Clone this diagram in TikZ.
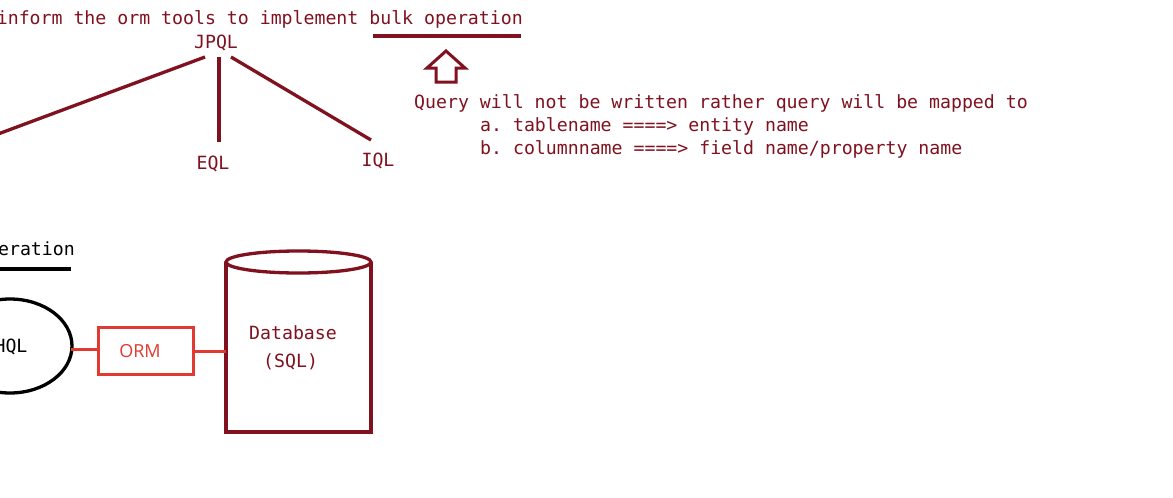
\documentclass[tikz,border=0pt]{standalone}
\usepackage{fontspec}
\usetikzlibrary{shapes.geometric}
\setmonofont{DejaVu Sans Mono}
\newfontfamily\ormfont{Open Sans}
\definecolor{maroon}{RGB}{128,18,32}
\definecolor{ormred}{RGB}{226,58,48}
\tikzset{
  mono/.style={font=\ttfamily\fontsize{18.2}{22}\selectfont, inner sep=0pt, text=maroon},
  monoblack/.style={mono, text=black},
  tline/.style={draw=maroon, line width=3.3pt},
  ormline/.style={draw=ormred, line width=3pt},
}
\begin{document}
\begin{tikzpicture}[x=1pt,y=-1pt]
\useasboundingbox (0,0) rectangle (1173,498);
\clip (0,0) rectangle (1173,498);
\fill[white] (0,0) rectangle (1173,498);
% title
\node[mono, anchor=base east] (title) at (523,24) {inform the orm tools to implement bulk operation};
\coordinate (ul1) at (373,36);
\coordinate (ul2) at (521,36);
\draw[tline] (ul1) -- (ul2);
% hollow up arrow
\draw[maroon, line width=3pt, line join=miter]
  (446,51) -- (465,68) -- (456,68) -- (456,82) -- (436,82) -- (436,68) -- (427,68) -- cycle;
% JPQL tree
\node[mono, anchor=base] (jpql) at (216,48) {JPQL};
\node[mono, anchor=base] (eql) at (213,169) {EQL};
\node[mono, anchor=base] (iql) at (378,166) {IQL};
\coordinate (j1) at (205,57);
\coordinate (j2) at (219,57);
\coordinate (j3) at (231,57);
\coordinate (leftend) at (-10,137);
\coordinate (e1) at (219,142);
\coordinate (i1) at (371,140);
\draw[tline] (j1) -- (leftend);
\draw[tline] (j2) -- (e1);
\draw[tline] (j3) -- (i1);
% query text
\node[mono, anchor=base west] (q1) at (414,108) {Query will not be written rather query will be mapped to};
\node[mono, anchor=base west] (q2) at (480,131) {a. tablename ====> entity name};
\node[mono, anchor=base west] (q3) at (480,154) {b. columnname ====> field name/property name};
% bottom
\node[monoblack, anchor=base east] (erat) at (75,255) {eration};
\draw[black, line width=3.3pt] (-5,269) -- (71,269);
\node[draw=black, line width=3.3pt, ellipse, minimum width=124pt, minimum height=94pt, inner sep=0pt] (hql) at (10,346) {};
\node[monoblack, anchor=base] (hqltext) at (11,352) {HQL};
\node[draw=ormred, line width=3pt, minimum width=95pt, minimum height=47pt, inner sep=0pt,
      font=\ormfont\fontsize{18}{21}\selectfont, text=ormred] (orm) at (146,351) {\hspace*{-12pt}ORM};
% cylinder
\coordinate (cyltl) at (226,262);
\coordinate (cyltr) at (371,262);
\coordinate (cylbl) at (226,432);
\coordinate (cylbr) at (371,432);
\draw[tline, line join=miter] (cyltl) -- (cylbl) -- (cylbr) -- (cyltr);
\draw[tline] (298.5,262) ellipse [x radius=72.5, y radius=11];
\node[mono, anchor=base west] (db1) at (249,339) {Database};
\node[mono, anchor=base west] (db2) at (263,367) {(SQL)};
\coordinate (dbleft) at (226,351);
\coordinate (hqlr) at (71,349);
\draw[ormline] (hqlr) -- (orm.west |- hqlr);
\draw[ormline] (orm.east) -- (dbleft);
\end{tikzpicture}
\end{document}
